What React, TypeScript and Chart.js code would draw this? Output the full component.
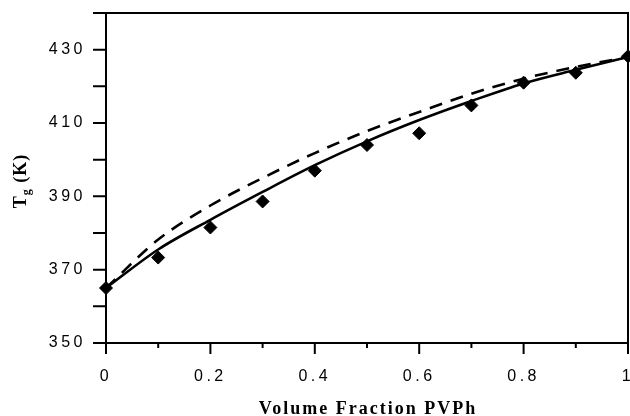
import React, { useEffect, useRef } from 'react';
import { Chart, registerables } from 'chart.js';

Chart.register(...registerables);

// Volume fraction of PVPh in the blend
const volumeFraction = [0, 0.1, 0.2, 0.3, 0.4, 0.5, 0.6, 0.7, 0.8, 0.9, 1.0];
// Measured glass transition temperatures (K)
const measuredTg = [365, 373.3, 381.5, 388.6, 397, 404, 407.2, 414.8, 421, 423.7, 428.2];
// Model curves (K)
const solidFitTg = [365, 375.5, 383.6, 391.2, 398.5, 405, 410.8, 416, 420.8, 424.5, 428];
const dashedFitTg = [365, 378.2, 387.5, 395, 401.8, 407.8, 413, 418, 422.1, 425.3, 428];

// Axis ticks
const xMinorStep = 0.1;
const xLabelValues = [0, 0.2, 0.4, 0.6, 0.8, 1];
const xLabelText = ['0', '0.2', '0.4', '0.6', '0.8', '1'];
const yStep = 10;
const yLabelValues = [350, 370, 390, 410, 430];
const yLabelText = ['350', '370', '390', '410', '430'];

const xTitle = 'Volume Fraction PVPh';
const yTitleMain = 'T';
const yTitleSub = 'g';
const yTitleUnit = ' (K)';

const findLabel = (values: number[], texts: string[], v: number) => {
  const i = values.findIndex((t) => Math.abs(t - v) < 1e-6);
  return i >= 0 ? texts[i] : '';
};

const isMajorX = (v: number) => xLabelValues.some((t) => Math.abs(t - v) < 1e-6);

const framePlugin = {
  id: 'frameAndTitles',
  beforeDraw(chart: any) {
    chart.ctx.letterSpacing = '3.5px';
  },
  beforeDatasetsDraw(chart: any) {
    const { ctx, chartArea, scales } = chart;
    const { left, right, top, bottom } = chartArea;
    ctx.save();
    ctx.letterSpacing = '0px';
    ctx.strokeStyle = '#000';
    ctx.lineWidth = 2;
    ctx.lineCap = 'square';
    ctx.beginPath();
    ctx.moveTo(left, top);
    ctx.lineTo(left, bottom);
    ctx.lineTo(right, bottom);
    ctx.lineTo(right, top);
    ctx.lineTo(left, top);
    ctx.stroke();
    ctx.lineCap = 'butt';
    ctx.beginPath();
    scales.y.ticks.forEach((t: any) => {
      const py = scales.y.getPixelForValue(t.value);
      ctx.moveTo(left - 13, py);
      ctx.lineTo(left, py);
    });
    scales.x.ticks.forEach((t: any) => {
      const px = scales.x.getPixelForValue(t.value);
      const len = isMajorX(t.value) ? 11 : 5;
      ctx.moveTo(px, bottom);
      ctx.lineTo(px, bottom + len);
    });
    ctx.stroke();
    ctx.restore();
  },
  afterDraw(chart: any) {
    const { ctx, chartArea } = chart;
    const { left, right, top, bottom } = chartArea;
    ctx.save();
    ctx.fillStyle = '#000';

    // x title
    ctx.letterSpacing = '2px';
    ctx.font = 'bold 18px "Liberation Serif"';
    ctx.textAlign = 'center';
    ctx.textBaseline = 'middle';
    ctx.fillText(xTitle, (left + right) / 2 + 1, bottom + 66);

    // y title, rotated, with subscript
    ctx.letterSpacing = '1px';
    ctx.textAlign = 'left';
    ctx.textBaseline = 'alphabetic';
    const mainFont = 'bold 18px "Liberation Serif"';
    const subFont = 'bold 12px "Liberation Serif"';
    ctx.font = mainFont;
    const wMain = ctx.measureText(yTitleMain).width;
    const wUnit = ctx.measureText(yTitleUnit).width;
    ctx.font = subFont;
    const wSub = ctx.measureText(yTitleSub).width;
    const total = wMain + wSub + wUnit;
    ctx.translate(26, (top + bottom) / 2 + 3);
    ctx.rotate(-Math.PI / 2);
    let x = -total / 2;
    ctx.font = mainFont;
    ctx.fillText(yTitleMain, x, 0);
    x += wMain;
    ctx.font = subFont;
    ctx.fillText(yTitleSub, x, 4);
    x += wSub;
    ctx.font = mainFont;
    ctx.fillText(yTitleUnit, x, 0);
    ctx.restore();
  },
};

export default function App() {
  const canvasRef = useRef<HTMLCanvasElement | null>(null);

  useEffect(() => {
    if (!canvasRef.current) return;
    const tickFont = { family: '"Liberation Sans", Arial, sans-serif', size: 16 };
    const chart = new Chart(canvasRef.current, {
      type: 'line',
      data: {
        datasets: [
          {
            label: 'Measured',
            type: 'scatter',
            data: volumeFraction.map((x, i) => ({ x, y: measuredTg[i] })),
            pointStyle: 'rectRot',
            pointRadius: 6.5,
            pointBackgroundColor: '#000',
            pointBorderColor: '#000',
            pointBorderWidth: 1,
            showLine: false,
            clip: false,
          } as any,
          {
            label: 'Model (solid)',
            data: volumeFraction.map((x, i) => ({ x, y: solidFitTg[i] })),
            borderColor: '#000',
            borderWidth: 2.6,
            pointRadius: 0,
            cubicInterpolationMode: 'monotone',
            fill: false,
          },
          {
            label: 'Model (dashed)',
            data: volumeFraction.map((x, i) => ({ x, y: dashedFitTg[i] })),
            borderColor: '#000',
            borderWidth: 2.6,
            borderDash: [13, 9],
            pointRadius: 0,
            cubicInterpolationMode: 'monotone',
            fill: false,
          },
        ],
      },
      options: {
        responsive: false,
        animation: false,
        events: [],
        layout: { autoPadding: false, padding: { top: 13, right: 2, left: 0, bottom: 0 } },
        plugins: {
          legend: { display: false },
          tooltip: { enabled: false },
          title: { display: false },
        },
        scales: {
          x: {
            type: 'linear',
            min: 0,
            max: 1,
            grid: { display: false, drawTicks: false },
            border: { display: false },
            ticks: {
              stepSize: xMinorStep,
              autoSkip: false,
              maxRotation: 0,
              padding: 24,
              color: '#000',
              font: tickFont,
              callback: (v: any) => findLabel(xLabelValues, xLabelText, Number(v)),
            },
            afterFit: (scale: any) => {
              scale.height = 73;
              scale.paddingLeft = 0;
              scale.paddingRight = 0;
            },
          },
          y: {
            type: 'linear',
            min: 350,
            max: 440,
            grid: { display: false, drawTicks: false },
            border: { display: false },
            ticks: {
              stepSize: yStep,
              autoSkip: false,
              padding: 20,
              color: '#000',
              font: tickFont,
              callback: (v: any) => findLabel(yLabelValues, yLabelText, Number(v)),
            },
            afterFit: (scale: any) => {
              scale.width = 106;
              scale.paddingTop = 0;
              scale.paddingBottom = 0;
            },
          },
        },
      },
      plugins: [framePlugin],
    });
    return () => chart.destroy();
  }, []);

  return (
    <div style={{ position: 'fixed', left: 0, top: 0, width: 630, height: 416, background: '#fff' }}>
      <canvas ref={canvasRef} width={630} height={416} style={{ display: 'block' }} />
    </div>
  );
}
